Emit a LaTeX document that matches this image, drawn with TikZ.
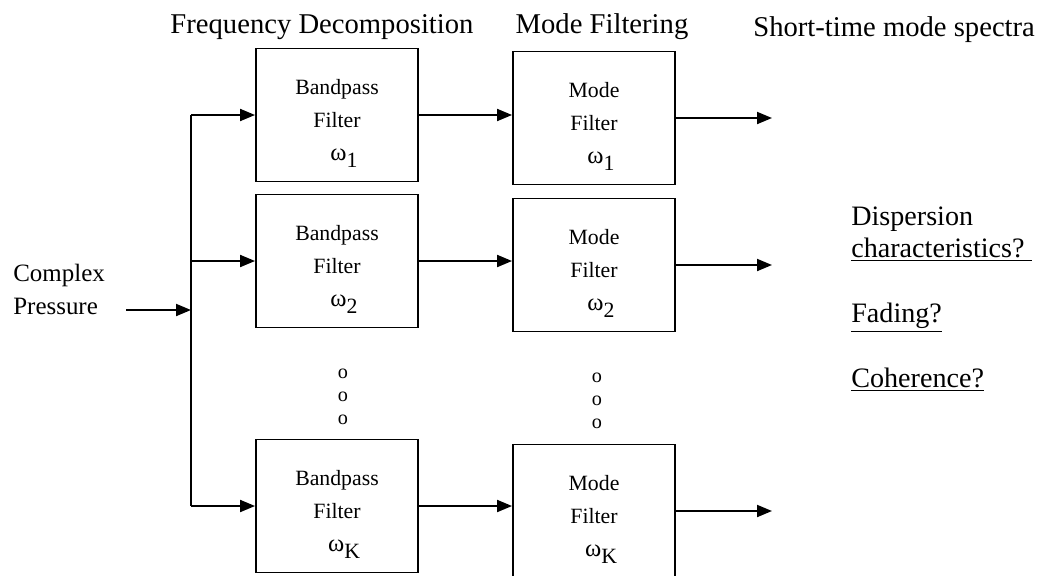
\documentclass[tikz,border=0pt]{standalone}
\usepackage{fontspec}
\setmainfont{Liberation Serif}
\usetikzlibrary{arrows.meta, positioning, calc}
\newcommand{\wband}[1]{\hspace*{8pt}{\fontsize{14}{14}\selectfont ω}\raisebox{-0.7ex}{#1}}
\newcommand{\firstline}[1]{\rule{0pt}{18pt}#1}

\begin{document}
\begin{tikzpicture}[x=0.02cm, y=-0.02cm,
  filterbox/.style={draw, line width=1.1pt, minimum width=3.24cm, minimum height=2.66cm, inner sep=0pt, align=center, font=\fontsize{12.4}{18.8}\selectfont},
  flow/.style={line width=1.1pt, -{Triangle[length=0.3cm, width=0.24cm]}},
  heading/.style={font=\fontsize{16.3}{19}\selectfont, inner sep=0pt},
  query/.style={anchor=west, font=\fontsize{16}{19}\selectfont, inner sep=0pt},
  dotcol/.style={align=center, font=\fontsize{11.5}{13}\selectfont, inner sep=0pt}]
\useasboundingbox (0,0) rectangle (1043,575);

% headings
\node[heading] (fd) at (322,27) {Frequency Decomposition};
\node[heading] (mf) at (602,27) {Mode Filtering};
\node[heading, anchor=west] (sm) at (753,30) {Short-time mode spectra};

% filter banks
\node[filterbox] (bp1) at (337,115) {\firstline{Bandpass}\\Filter\\\wband{1}};
\node[filterbox] (bp2) at (337,261) {\firstline{Bandpass}\\Filter\\\wband{2}};
\node[filterbox] (bp3) at (337,506) {\firstline{Bandpass}\\Filter\\\wband{K}};
\node[filterbox] (mode1) at (594,118) {\firstline{Mode}\\Filter\\\wband{1}};
\node[filterbox] (mode2) at (594,265) {\firstline{Mode}\\Filter\\\wband{2}};
\node[filterbox] (mode3) at (594,511) {\firstline{Mode}\\Filter\\\wband{K}};

\node[dotcol] (dl) at (343,397) {o\\o\\o};
\node[dotcol] (dr) at (597,401) {o\\o\\o};

% input and bus
\node[anchor=west, align=left, inner sep=0pt, font=\fontsize{14.2}{18.8}\selectfont] (cp) at (13,289) {Complex\\Pressure};
\coordinate (src) at (126,310);
\coordinate (bus) at (191,310);
\coordinate (out) at (772,0);
\draw[flow] (src) -- (bus);
\draw[line width=1.1pt] (bus |- bp1.west) -- (bus |- bp3.west);
\foreach \i in {1,2,3} {
  \draw[flow] (bus |- bp\i.west) -- (bp\i.west);
  \draw[flow] (bp\i.east) -- (bp\i.east -| mode\i.west);
  \draw[flow] (mode\i.east) -- (mode\i.east -| out);
}

% questions
\node[query] (disp) at (851,219) {Dispersion};
\node[query] (char) at (851,250) {\underline{characteristics?~}};
\node[query] (fad) at (851,318) {\underline{Fading?}};
\node[query] (coh) at (851,380) {\underline{Coherence?}};
\end{tikzpicture}
\end{document}
